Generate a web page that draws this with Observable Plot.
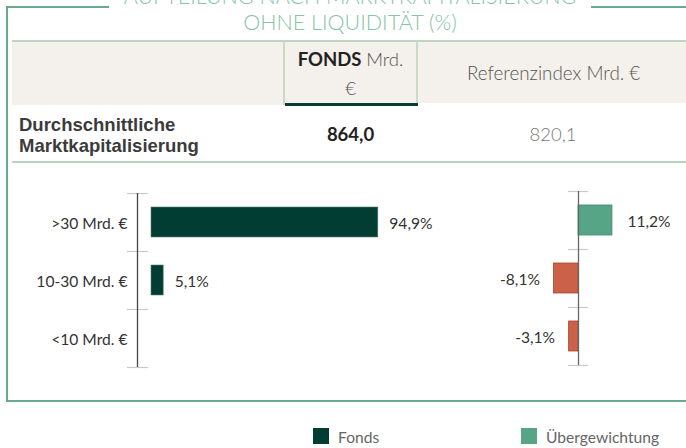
<!DOCTYPE html>
<html>
<head>
<meta charset="utf-8">
<script src="https://cdn.jsdelivr.net/npm/d3@7"></script>
<script src="https://cdn.jsdelivr.net/npm/@observablehq/plot@0.6"></script>
<style>
  html, body { margin: 0; padding: 0; background: #fff; }
  #root { position: relative; width: 686px; height: 448px; overflow: hidden; font-family: Lato, "Open Sans", sans-serif; }
  .abs { position: absolute; }
  .frame { left: 6px; top: 6px; width: 720px; height: 392px; border: 2px solid #69aa8d; }
  .title { left: 109px; top: -17px; width: 482px; background: #fff; text-align: center; color: #85c4a6; font-weight: 300; font-size: 21.5px; line-height: 26px; }
  .hdr { top: 40px; height: 63px; background: #f4f0eb; border-top: 2px solid #bcd6bd; }
  .cell { display: flex; align-items: center; justify-content: center; text-align: center; }
  .row2 { top: 105px; height: 56px; border-bottom: 2px solid #b7d3bb; }
  .legend-sw { width: 16px; height: 16px; }
  .legend-tx { font-size: 15.6px; color: #666; line-height: 16px; }
</style>
</head>
<body>
<div id="root"></div>
<script>
// ---- data ----
const titleLines = ["AUFTEILUNG NACH MARKTKAPITALISIERUNG", "OHNE LIQUIDITÄT (%)"];
const headerFonds = ["FONDS", "Mrd.", "€"];
const headerIndex = "Referenzindex Mrd. €";
const rowLabel = ["Durchschnittliche", "Marktkapitalisierung"];
const avgMarketCap = [864.0, 820.1]; // Fonds, Referenzindex
const categories = [">30 Mrd. €", "10-30 Mrd. €", "<10 Mrd. €"];
const fondsValues = [94.9, 5.1, 0];
const activeValues = [11.2, -8.1, -3.1];
const legendLabels = ["Fonds", "Übergewichtung"];

const colFonds = "#023d33", colOver = "#55a586", colUnder = "#cc614a";
const fmt = v => v.toFixed(1).replace(".", ",");

const root = document.getElementById("root");
function add(html) { root.insertAdjacentHTML("beforeend", html); }

// frame + title
add(`<div class="abs frame"></div>`);
add(`<div class="abs title">${titleLines.join("<br>")}</div>`);

// header row
add(`<div class="abs hdr" style="left:12px;width:271px;"></div>`);
add(`<div class="abs hdr cell" style="left:283px;width:131px;border-left:2px solid #c6dcc6;border-right:2px solid #c6dcc6;flex-direction:column;font-size:18.5px;line-height:29px;">
  <div><span style="font-weight:700;color:#222">${headerFonds[0]}</span> <span style="font-weight:300;color:#555">${headerFonds[1]}</span></div>
  <div style="font-weight:300;color:#555">${headerFonds[2]}</div></div>`);
add(`<div class="abs" style="left:285px;top:103px;width:133px;height:3px;background:#0c3d33"></div>`);
add(`<div class="abs hdr cell" style="left:418px;width:280px;font-size:18.8px;font-weight:300;color:#555;justify-content:flex-start;padding-left:49px;box-sizing:border-box;">${headerIndex}</div>`);

// second row
add(`<div class="abs row2" style="left:12px;width:690px;"></div>`);
add(`<div class="abs" style="left:19px;top:114px;font-family:'Liberation Sans',Arial,sans-serif;font-weight:700;font-size:18.5px;line-height:21px;color:#3b3b3b;">${rowLabel.join("<br>")}</div>`);
add(`<div class="abs cell" style="left:283px;top:106px;width:135px;height:56px;font-size:18.5px;font-weight:700;color:#222;">${fmt(avgMarketCap[0])}</div>`);
add(`<div class="abs cell" style="left:418px;top:106px;width:270px;height:56px;font-size:18.5px;font-weight:300;color:#777;">${fmt(avgMarketCap[1])}</div>`);

// ---- charts ----
const pI = 0.483, pO = pI / 2;
const mt = 13, mb = 13, H = 200;
const step = (H - mt - mb) / categories.length;
const fondsData = categories.map((c, i) => ({cat: c, v: fondsValues[i]}));
const activeData = categories.map((c, i) => ({cat: c, v: activeValues[i]}));
const fs = 15.6;

const left = Plot.plot({
  width: 450, height: H,
  marginLeft: 137, marginRight: 74, marginTop: mt, marginBottom: mb,
  style: {fontFamily: "Lato, sans-serif", fontSize: fs + "px", color: "#333", background: "transparent", overflow: "visible"},
  x: {domain: [0, 100], axis: null},
  y: {domain: categories, paddingInner: pI, paddingOuter: pO, label: null},
  marks: [
    Plot.axisY({tickSize: 0, tickPadding: 10, label: null, fontSize: fs, dy: 1.5}),
    Plot.ruleY(categories, {y: d => d, x1: 0, x2: 0, dy: -step / 2, insetLeft: -10, insetRight: -11, stroke: "#c9c9c9", strokeWidth: 1.2}),
    Plot.ruleY([categories[categories.length - 1]], {y: d => d, x1: 0, x2: 0, dy: step / 2, insetLeft: -10, insetRight: -11, stroke: "#c9c9c9", strokeWidth: 1.2}),
    Plot.ruleX([0], {stroke: "#444", strokeWidth: 1.3}),
    Plot.barX(fondsData.filter(d => d.v > 0), {x: "v", y: "cat", dx: 14, fill: colFonds, stroke: "#5b7d74", strokeWidth: 0.6}),
    Plot.text(fondsData.filter(d => d.v > 0), {x: "v", y: "cat", text: d => fmt(d.v) + "%", dx: 25, dy: 1.5, textAnchor: "start", fill: "#333", fontSize: fs})
  ]
});
left.style.position = "absolute"; left.style.left = "0px"; left.style.top = "180px";
root.appendChild(left);

const right = Plot.plot({
  width: 246, height: H,
  marginLeft: 77.4, marginRight: 47.4, marginTop: mt, marginBottom: mb,
  style: {fontFamily: "Lato, sans-serif", fontSize: fs + "px", color: "#333", background: "transparent", overflow: "visible"},
  x: {domain: [-20, 20], axis: null},
  y: {domain: categories, paddingInner: pI, paddingOuter: pO, axis: null},
  marks: [
    Plot.ruleY(categories, {y: d => d, x1: 0, x2: 0, dy: -step / 2, insetLeft: -10, insetRight: -10, stroke: "#c9c9c9", strokeWidth: 1.2}),
    Plot.ruleY([categories[categories.length - 1]], {y: d => d, x1: 0, x2: 0, dy: step / 2, insetLeft: -10, insetRight: -10, stroke: "#c9c9c9", strokeWidth: 1.2}),
    Plot.barX(activeData, {x: "v", y: "cat", fill: d => d.v >= 0 ? colOver : colUnder, stroke: d => d.v >= 0 ? "#3f8a6c" : "#a8472f", strokeWidth: 0.8}),
    Plot.ruleX([0], {stroke: "#666", strokeWidth: 1.3}),
    Plot.text(activeData, {x: "v", y: "cat", text: d => fmt(d.v) + "%", textAnchor: "start", fill: "#333", fontSize: fs, filter: d => d.v >= 0, dx: 15, dy: 1.5}),
    Plot.text(activeData, {x: "v", y: "cat", text: d => fmt(d.v) + "%", textAnchor: "end", fill: "#333", fontSize: fs, filter: d => d.v < 0, dx: -14, dy: 1.5})
  ]
});
right.style.position = "absolute"; right.style.left = "440px"; right.style.top = "178px";
root.appendChild(right);

// legend
const legendCols = [colFonds, colOver];
const legendX = [313, 521];
legendLabels.forEach((l, i) => {
  add(`<div class="abs legend-sw" style="left:${legendX[i]}px;top:428px;background:${legendCols[i]}"></div>`);
  add(`<div class="abs legend-tx" style="left:${legendX[i] + 25}px;top:429px;">${l}</div>`);
});
</script>
</body>
</html>
